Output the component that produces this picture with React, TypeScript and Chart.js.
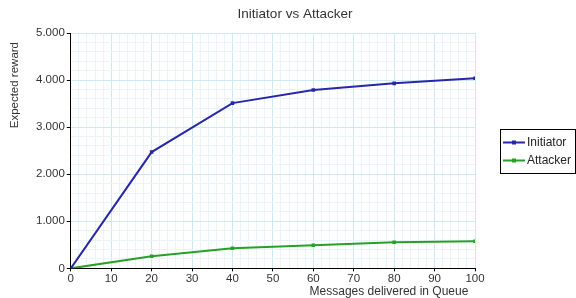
import React, { useEffect, useRef } from "react";
import { Chart, registerables } from "chart.js";

Chart.register(...registerables);

const xValues = [0, 20, 40, 60, 80, 100];
const initiator = [0, 2470, 3510, 3790, 3930, 4040];
const attacker = [0, 255, 425, 490, 553, 575];
const titleText = "Initiator vs Attacker";
const xTitle = "Messages delivered in Queue";
const yTitle = "Expected reward";

const FONT = "'Liberation Sans', Arial, sans-serif";

const customDecor = {
  id: "customDecor",
  afterDraw(chart: any) {
    const ctx = chart.ctx;
    const ca = chart.chartArea;
    // chart title
    ctx.save();
    ctx.fillStyle = "#333";
    ctx.font = "13.5px " + FONT;
    ctx.textAlign = "center";
    ctx.textBaseline = "middle";
    ctx.fillText(titleText, chart.width / 2 + 7, 14);
    ctx.restore();

    // y-axis title
    ctx.save();
    ctx.fillStyle = "#333";
    ctx.font = "11.5px " + FONT;
    ctx.translate(15, ca.top + 9);
    ctx.rotate(-Math.PI / 2);
    ctx.textAlign = "right";
    ctx.textBaseline = "middle";
    ctx.fillText(yTitle, 0, 0);
    ctx.restore();

    // legend
    const ds = chart.data.datasets;
    const bx = Math.round(ca.right) + 25;
    const bw = 75;
    const rowH = 18;
    const bh = ds.length * rowH + 8;
    const by = Math.round((ca.top + ca.bottom) / 2 - bh / 2);
    ctx.save();
    ctx.strokeStyle = "#000";
    ctx.lineWidth = 1;
    ctx.strokeRect(bx + 0.5, by + 0.5, bw, bh);
    ctx.font = "12px " + FONT;
    ctx.textBaseline = "middle";
    ctx.textAlign = "left";
    ds.forEach((d: any, i: number) => {
      const cy = by + 4 + rowH * i + rowH / 2 + 0.5;
      ctx.strokeStyle = d.borderColor;
      ctx.lineWidth = 2;
      ctx.beginPath();
      ctx.moveTo(bx + 3, cy);
      ctx.lineTo(bx + 25, cy);
      ctx.stroke();
      ctx.fillStyle = d.borderColor;
      ctx.fillRect(bx + 12, cy - 2, 4, 4);
      ctx.fillStyle = "#222";
      ctx.fillText(d.label, bx + 27, cy);
    });
    ctx.restore();
  },
};

const fmt = (v: number) => {
  if (v === 0) return "0";
  const s = String(Math.round(v));
  return s.replace(/\B(?=(\d{3})+(?!\d))/g, ".");
};

export default function App() {
  const ref = useRef<HTMLCanvasElement>(null);
  useEffect(() => {
    document.body.style.margin = "0";
    const chart = new Chart(ref.current!, {
      type: "line",
      data: {
        datasets: [
          {
            label: "Initiator",
            data: xValues.map((x, i) => ({ x, y: initiator[i] })),
            borderColor: "#2727a8",
            backgroundColor: "#2727a8",
            borderWidth: 2,
            pointRadius: 2.5,
            pointStyle: "rect",
            pointBorderWidth: 0,
          },
          {
            label: "Attacker",
            data: xValues.map((x, i) => ({ x, y: attacker[i] })),
            borderColor: "#28a028",
            backgroundColor: "#28a028",
            borderWidth: 2,
            pointRadius: 2.5,
            pointStyle: "rect",
            pointBorderWidth: 0,
          },
        ],
      },
      plugins: [customDecor],
      options: {
        animation: false,
        responsive: false,
        devicePixelRatio: 1,
        layout: { padding: { left: 34, right: 101, top: 33, bottom: 0 } },
        plugins: {
          title: { display: false },
          legend: { display: false },
          tooltip: { enabled: false },
        },
        scales: {
          x: {
            type: "linear",
            min: 0,
            max: 100,
            ticks: {
              stepSize: 2,
              autoSkip: false,
              maxRotation: 0,
              color: "#333",
              font: { family: FONT, size: 11.5, lineHeight: 1.1 },
              padding: 1,
              callback: (v: any) => (v % 10 === 0 ? String(v) : ""),
            },
            grid: {
              color: (c: any) => (c.tick && c.tick.value % 10 === 0 ? "#cde9f2" : "#eaf4f8"),
              tickLength: 3,
              tickColor: (c: any) => (c.tick && c.tick.value % 10 === 0 ? "#000" : "rgba(0,0,0,0)"),
            },
            border: { color: "#000", width: 1 },
            title: {
              display: true,
              text: xTitle + "  ",
              align: "end",
              color: "#333",
              font: { family: FONT, size: 12, lineHeight: 1 },
              padding: { top: 0, bottom: 0 },
            },
          },
          y: {
            min: 0,
            max: 5000,
            ticks: {
              stepSize: 200,
              autoSkip: false,
              color: "#333",
              font: { family: FONT, size: 11.5 },
              padding: 2,
              callback: (v: any) => (v % 1000 === 0 ? fmt(v) : ""),
            },
            grid: {
              color: (c: any) => (c.tick && c.tick.value % 1000 === 0 ? "#cde9f2" : "#eaf4f8"),
              tickLength: 4,
              tickColor: (c: any) => (c.tick && c.tick.value % 1000 === 0 ? "#000" : "rgba(0,0,0,0)"),
            },
            border: { color: "#000", width: 1 },
          },
        },
      } as any,
    });
    return () => chart.destroy();
  }, []);
  return (
    <div style={{ position: "fixed", left: 0, top: 0, width: 576, height: 298, background: "#fff" }}>
      <canvas ref={ref} width={576} height={298} style={{ width: 576, height: 298 }} />
    </div>
  );
}
